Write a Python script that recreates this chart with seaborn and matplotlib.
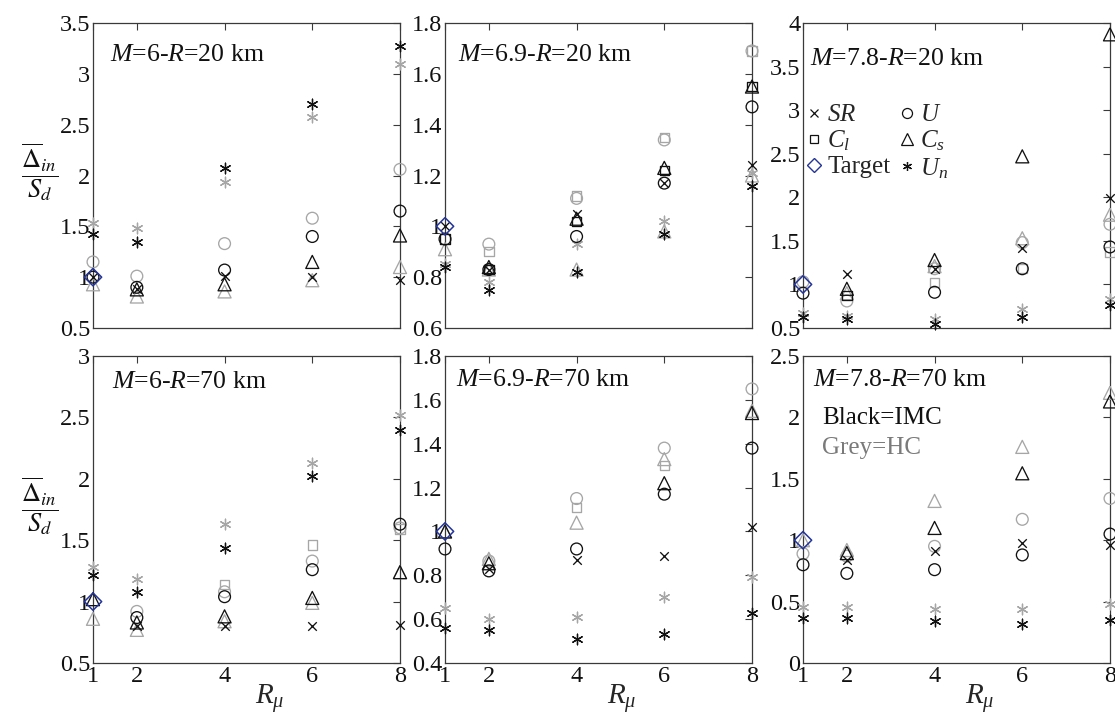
import numpy as np
import pandas as pd
import matplotlib
matplotlib.use("Agg")
import matplotlib.pyplot as plt
from matplotlib.lines import Line2D
from matplotlib.ticker import FuncFormatter
import seaborn as sns

nan = np.nan

# Ductility-ratio axis shared by every panel
R_MU = [1, 2, 4, 6, 8]

# Normalised mean inelastic displacement, IMC (black) and HC (grey) sets
M6_R20_IMC = dict(SR=[1.0, 0.88, 1.01, 1.00, 0.97], U=[1.0, 0.90, 1.07, 1.40, 1.65],
                  Cl=[nan] * 5, Cs=[nan, 0.88, 0.93, 1.15, 1.41],
                  Un=[1.42, 1.35, 2.07, 2.70, 3.27])
M6_R20_HC = dict(SR=[nan] * 5, U=[1.15, 1.01, 1.33, 1.58, 2.06],
                 Cl=[nan] * 5, Cs=[0.93, 0.81, 0.86, 0.97, 1.10],
                 Un=[1.53, 1.48, 1.94, 2.58, 3.10])

M69_R20_IMC = dict(SR=[1.0, 0.83, 1.05, 1.17, 1.24], U=[0.95, 0.83, 0.96, 1.17, 1.47],
                   Cl=[0.95, 0.83, 1.02, 1.22, 1.55], Cs=[nan, 0.84, 1.03, 1.23, 1.55],
                   Un=[0.84, 0.75, 0.82, 0.97, 1.16])
M69_R20_HC = dict(SR=[nan] * 5, U=[nan, 0.93, 1.11, 1.34, 1.69],
                  Cl=[nan, 0.90, 1.12, 1.35, 1.69], Cs=[0.91, 0.83, 0.83, 0.98, 1.20],
                  Un=[0.85, 0.78, 0.93, 1.02, 1.21])

M78_R20_IMC = dict(SR=[nan, 1.12, 1.18, 1.42, 1.99], U=[0.90, nan, 0.91, 1.18, 1.43],
                   Cl=[nan, 0.87, nan, nan, nan], Cs=[nan, 0.95, 1.28, 2.47, 3.87],
                   Un=[0.63, 0.60, 0.55, 0.63, 0.76])
M78_R20_HC = dict(SR=[nan] * 5, U=[1.03, 0.81, 1.18, 1.48, 1.69],
                  Cl=[nan, nan, 1.02, 1.18, 1.37], Cs=[nan, 0.90, 1.21, 1.53, 1.80],
                  Un=[0.67, 0.64, 0.60, 0.72, 0.83])

M6_R70_IMC = dict(SR=[nan, 0.80, 0.80, 0.80, 0.81], U=[nan, 0.87, 1.04, 1.26, 1.63],
                  Cl=[nan] * 5, Cs=[1.02, 0.83, 0.88, 1.03, 1.24],
                  Un=[1.22, 1.08, 1.44, 2.02, 2.40])
M6_R70_HC = dict(SR=[nan] * 5, U=[nan, 0.92, 1.08, 1.33, 1.60],
                 Cl=[nan, nan, 1.14, 1.46, 1.59], Cs=[0.86, 0.77, 0.84, 0.99, 1.24],
                 Un=[1.28, 1.18, 1.63, 2.13, 2.52])

M69_R70_IMC = dict(SR=[nan, 0.83, 0.87, 0.89, 1.02], U=[0.92, 0.82, 0.92, 1.17, 1.38],
                   Cl=[nan] * 5, Cs=[1.0, 0.855, nan, 1.22, 1.54],
                   Un=[0.56, 0.55, 0.51, 0.53, 0.63])
M69_R70_HC = dict(SR=[nan] * 5, U=[nan, 0.865, 1.15, 1.38, 1.65],
                  Cl=[nan, nan, 1.11, 1.30, nan], Cs=[1.0, 0.875, 1.04, 1.33, 1.55],
                  Un=[0.65, 0.60, 0.61, 0.70, 0.79])

M78_R70_IMC = dict(SR=[nan, 0.84, 0.91, 0.98, 0.96], U=[0.80, 0.73, 0.76, 0.88, 1.05],
                   Cl=[nan] * 5, Cs=[nan, 0.895, 1.10, 1.545, 2.13],
                   Un=[0.37, 0.37, 0.34, 0.32, 0.35])
M78_R70_HC = dict(SR=[nan] * 5, U=[0.89, 0.87, 0.95, 1.17, 1.34],
                  Cl=[nan] * 5, Cs=[1.0, 0.92, 1.32, 1.76, 2.20],
                  Un=[0.46, 0.46, 0.44, 0.44, 0.48])

TARGET = 1.0

PANEL_TITLES = [r"$M$=6-$R$=20 km", r"$M$=6.9-$R$=20 km", r"$M$=7.8-$R$=20 km",
                r"$M$=6-$R$=70 km", r"$M$=6.9-$R$=70 km", r"$M$=7.8-$R$=70 km"]
PANEL_YLIMS = [(0.5, 3.5), (0.6, 1.8), (0.5, 4.0), (0.5, 3.0), (0.4, 1.8), (0.0, 2.5)]
PANEL_YSTEPS = [0.5, 0.2, 0.5, 0.5, 0.2, 0.5]
PANEL_DATA = [(M6_R20_IMC, M6_R20_HC), (M69_R20_IMC, M69_R20_HC), (M78_R20_IMC, M78_R20_HC),
              (M6_R70_IMC, M6_R70_HC), (M69_R70_IMC, M69_R70_HC), (M78_R70_IMC, M78_R70_HC)]

METHODS = ["SR", "U", "Cl", "Cs", "Un"]
LEGEND_LABELS = {"SR": r"$SR$", "U": r"$U$", "Cl": r"$C_l$", "Cs": r"$C_s$", "Un": r"$U_n$"}

# ---- styling ----
sns.set_theme(style="white")
plt.rcParams.update({
    "font.family": ["Liberation Serif", "DejaVu Serif"],
    "mathtext.fontset": "custom",
    "mathtext.rm": "Liberation Serif",
    "mathtext.it": "Liberation Serif:italic",
    "mathtext.bf": "Liberation Serif:bold",
    "axes.edgecolor": "#3a3a3a",
    "axes.linewidth": 0.9,
})

BLACK = "#111111"
GREY = "#a6a6a6"
BLUE = "#23349a"
MARKERS = {"SR": "x", "U": "o", "Cl": "s", "Cs": "^", "Un": (6, 2, 0)}
SIZES = {"SR": 38, "U": 72, "Cl": 46, "Cs": 88, "Un": 58}
FILLED = {"SR": False, "U": True, "Cl": True, "Cs": True, "Un": False}

W, H = 1115, 722
fig = plt.figure(figsize=(W / 100, H / 100), dpi=100)

col_left = [93, 445, 803]
row_top = [(23, 328), (356, 663)]
axes = []
for r in range(2):
    for c in range(3):
        top, bot = row_top[r]
        ax = fig.add_axes([col_left[c] / W, 1 - bot / H, 307 / W, (bot - top) / H])
        axes.append(ax)

title_pos = [(0.056, 0.875), (0.042, 0.875), (0.023, 0.862),
             (0.062, 0.896), (0.036, 0.902), (0.033, 0.902)]

for i, ax in enumerate(axes):
    imc, hc = PANEL_DATA[i]
    for table, col, z in ((hc, GREY, 3), (imc, BLACK, 4)):
        for m in METHODS:
            df = pd.DataFrame({"R": R_MU, "v": table[m]}).dropna()
            if df.empty:
                continue
            kw = dict(marker=MARKERS[m], s=SIZES[m], color=col, linewidth=0.95,
                      clip_on=False, zorder=z, legend=False, ax=ax)
            if FILLED[m]:
                kw.update(facecolor="none", edgecolor=col)
            sns.scatterplot(data=df, x="R", y="v", **kw)
    tdf = pd.DataFrame({"R": [R_MU[0]], "v": [TARGET]})
    sns.scatterplot(data=tdf, x="R", y="v", marker="D", s=78, color=BLUE,
                    facecolor="none", edgecolor=BLUE, linewidth=1.1,
                    clip_on=False, zorder=6, legend=False, ax=ax)

    lo, hi = PANEL_YLIMS[i]
    ax.set_xlim(1, 8)
    ax.set_ylim(lo, hi)
    ax.set_xticks(R_MU)
    ax.set_yticks(np.round(np.arange(lo, hi + 1e-9, PANEL_YSTEPS[i]), 2))
    ax.yaxis.set_major_formatter(FuncFormatter(lambda v, p: f"{v:g}"))
    ax.tick_params(direction="in", top=True, right=True, length=5, width=0.8,
                   color="#3a3a3a", labelsize=17.5, pad=2, labelcolor="#111111")
    ax.set_xlabel("")
    ax.set_ylabel("")
    if i < 3:
        ax.tick_params(labelbottom=False)
    else:
        ax.set_xlabel(r"$R_{\mu}$", fontsize=21, labelpad=0)
        ax.xaxis.set_label_coords(0.575, -0.062)
    tx, ty = title_pos[i]
    ax.text(tx, ty, PANEL_TITLES[i], transform=ax.transAxes, fontsize=18.5,
            va="baseline", ha="left", color="#111111")

# y-axis quantity on the left column
for r in range(2):
    top, bot = row_top[r]
    fig.text(40 / W, 1 - ((top + bot) / 2 - 3) / H,
             r"$\dfrac{\overline{\mathit{\Delta}}_{in}}{S_d}$",
             fontsize=19, ha="center", va="center", color="#111111",
             math_fontfamily="stix")

# legend of the methods
def handle(m, col=BLACK):
    return Line2D([], [], ls="none", marker=MARKERS[m], color=col,
                  markerfacecolor="none", markeredgecolor=col,
                  markersize=np.sqrt(SIZES[m]) * 0.85, markeredgewidth=0.9)

h_target = Line2D([], [], ls="none", marker="D", color=BLUE, markerfacecolor="none",
                  markeredgecolor=BLUE, markersize=7.5, markeredgewidth=1.0)
handles = [handle("SR"), handle("Cl"), h_target, handle("U"), handle("Cs"), handle("Un")]
labels = [LEGEND_LABELS["SR"], LEGEND_LABELS["Cl"], "Target",
          LEGEND_LABELS["U"], LEGEND_LABELS["Cs"], LEGEND_LABELS["Un"]]
axes[2].legend(handles, labels, ncol=2, loc="upper left", bbox_to_anchor=(0.01, 0.735),
               frameon=False, fontsize=18, handlelength=0.6, handletextpad=0.25,
               columnspacing=0.35, labelspacing=0.1, borderpad=0, borderaxespad=0)

axes[5].text(0.062, 0.798, "Black=IMC", transform=axes[5].transAxes, fontsize=18,
             va="center", ha="left", color="#111111")
axes[5].text(0.062, 0.70, "Grey=HC", transform=axes[5].transAxes, fontsize=18,
             va="center", ha="left", color="#7a7a7a")

fig.savefig("out.png", dpi=100)
